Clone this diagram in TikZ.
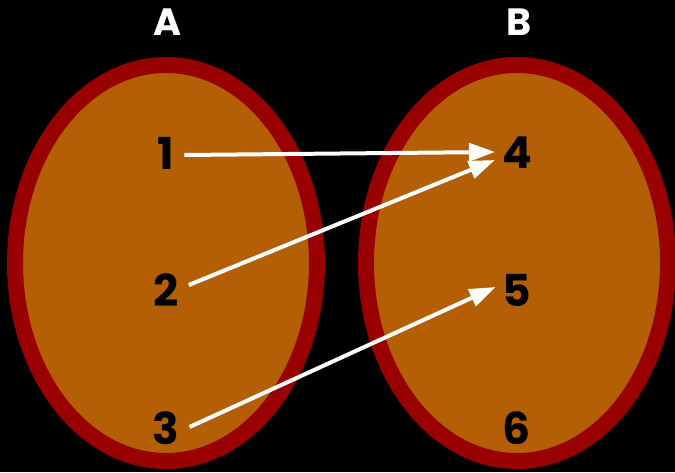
\documentclass[tikz,border=0pt]{standalone}
\usepackage{fontspec}
\setmainfont{Poppins}
\usetikzlibrary{arrows.meta}
\definecolor{setfill}{HTML}{B45F06}
\definecolor{setrim}{HTML}{990000}
\begin{document}
\begin{tikzpicture}[x=1pt, y=-1pt, line cap=round, line join=round, >={Triangle[length=26pt, width=18pt]}]
	\tikzset{
		setbody/.style={fill=setfill, draw=setrim, line width=16pt},
		setname/.style={text=white, font=\fontsize{38}{40}\selectfont\bfseries},
		elem/.style={text=black, font=\fontsize{44}{46}\selectfont\bfseries, inner sep=1pt},
		maparrow/.style={->, white, line width=4pt, line cap=butt}
	}
	\fill[black] (0,0) rectangle (675,472);
	\useasboundingbox (0,0) rectangle (675,472);
	\def\RX{151pt} % bán trục ngang
	\def\RY{198pt} % bán trục dọc
	\draw[setbody] (166,263) ellipse [x radius=\RX, y radius=\RY];
	\draw[setbody] (517,263) ellipse [x radius=\RX, y radius=\RY];
	\node[setname] (A) at (168,22) {A};
	\node[setname] (B) at (519,22) {B};
	\foreach \n/\y in {1/153, 2/290, 3/428} {
		\node[elem] (e\n) at (166,\y) {\n};
	}
	\foreach \n/\y in {4/153, 5/290, 6/428} {
		\node[elem] (e\n) at (517,\y) {\n};
	}
	\draw[maparrow] ([xshift=9pt, yshift=-2pt]e1.east) -- ([xshift=-6pt, yshift=1pt]e4.west);
	\draw[maparrow] ([xshift=9pt, yshift=5pt]e2.east) -- ([xshift=-6pt, yshift=-7pt]e4.west);
	\draw[maparrow] ([xshift=9pt, yshift=1pt]e3.east) -- ([xshift=-6pt, yshift=3pt]e5.west);
\end{tikzpicture}
\end{document}
